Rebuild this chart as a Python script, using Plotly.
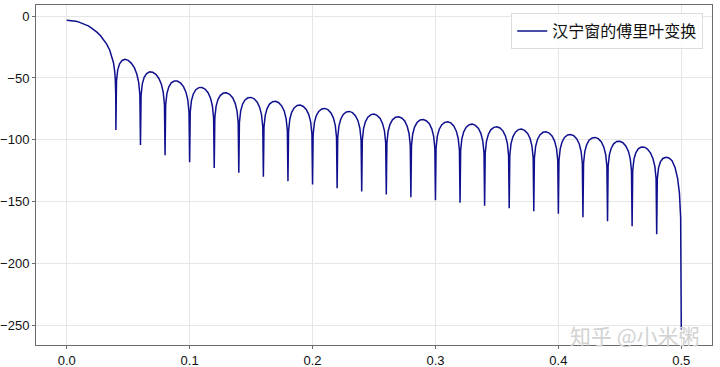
import plotly.graph_objects as go

# ---- data ----
main_lobe_freq = [0.0, 0.0025, 0.005, 0.0075, 0.01, 0.0125, 0.015, 0.0175, 0.02,
                  0.0225, 0.025, 0.0275, 0.03, 0.0325, 0.035, 0.037, 0.038, 0.039,
                  0.0395, 0.0399]
main_lobe_db = [-3.5, -3.59, -3.85, -4.29, -4.92, -5.74, -6.77, -8.0, -9.52,
                -11.3, -13.4, -15.9, -18.9, -22.65, -27.6, -33.3, -37.5, -44.3,
                -50.7, -65.0]

null_freq = [0.04, 0.06, 0.08, 0.10, 0.12, 0.14, 0.16, 0.18, 0.20, 0.22, 0.24, 0.26,
             0.28, 0.30, 0.32, 0.34, 0.36, 0.38, 0.40, 0.42, 0.44, 0.46, 0.48, 0.50]
null_db = [-92.1, -104.2, -112.3, -118.0, -122.6, -126.6, -129.8, -133.3, -136.0,
           -139.0, -141.7, -144.1, -146.3, -148.7, -150.8, -153.1, -155.2, -157.6,
           -159.7, -162.4, -165.7, -169.7, -176.2, -253.0]

# sample offsets inside each side lobe (from the lobe's left null)
lobe_offsets = [0.0005, 0.0015, 0.003, 0.005, 0.0075, 0.01, 0.0125, 0.015, 0.017, 0.0185, 0.0195]

sidelobe_db = [
    [-52.3, -43.4, -38.6, -35.9, -35.0, -35.8, -38.0, -41.7, -46.8, -53.4, -63.5],
    [-63.8, -54.7, -49.5, -46.4, -45.1, -45.4, -47.1, -50.4, -55.1, -61.4, -71.2],
    [-71.8, -62.6, -57.3, -54.0, -52.5, -52.5, -54.0, -57.0, -61.5, -67.7, -77.5],
    [-77.5, -68.2, -62.9, -59.5, -57.8, -57.7, -59.0, -61.9, -66.3, -72.4, -82.1],
    [-82.2, -72.9, -67.5, -64.0, -62.2, -62.0, -63.2, -66.0, -70.3, -76.3, -86.0],
    [-86.2, -76.8, -71.4, -67.8, -66.0, -65.7, -66.8, -69.6, -73.8, -79.8, -89.4],
    [-89.5, -80.2, -74.7, -71.1, -69.2, -68.9, -70.0, -72.7, -76.9, -82.8, -92.5],
    [-92.7, -83.3, -77.8, -74.2, -72.2, -71.9, -73.0, -75.6, -79.8, -85.7, -95.4],
    [-95.5, -86.1, -80.6, -77.0, -75.0, -74.6, -75.6, -78.2, -82.4, -88.3, -97.9],
    [-98.0, -88.6, -83.1, -79.4, -77.4, -77.0, -78.0, -80.6, -84.7, -90.6, -100.2],
    [-100.3, -90.9, -85.4, -81.7, -79.6, -79.2, -80.2, -82.7, -86.9, -92.7, -102.3],
    [-102.4, -93.0, -87.5, -83.8, -81.7, -81.3, -82.3, -84.8, -89.0, -94.8, -104.4],
    [-104.6, -95.2, -89.7, -86.0, -83.9, -83.5, -84.5, -87.0, -91.1, -97.0, -106.6],
    [-106.6, -97.2, -91.6, -87.9, -85.9, -85.4, -86.3, -88.9, -93.0, -98.8, -108.4],
    [-108.5, -99.1, -93.5, -89.8, -87.8, -87.3, -88.3, -90.8, -94.9, -100.8, -110.4],
    [-110.6, -101.2, -95.6, -91.9, -89.9, -89.4, -90.4, -92.9, -97.0, -102.9, -112.5],
    [-112.4, -103.0, -97.5, -93.8, -91.7, -91.3, -92.3, -94.8, -98.9, -104.8, -114.4],
    [-114.6, -105.2, -99.7, -96.0, -93.9, -93.5, -94.5, -97.0, -101.2, -107.0, -116.6],
    [-116.6, -107.2, -101.7, -98.0, -96.0, -95.6, -96.6, -99.2, -103.3, -109.2, -118.8],
    [-118.8, -109.5, -104.0, -100.3, -98.4, -98.0, -99.0, -101.7, -105.9, -111.8, -121.4],
    [-121.4, -112.1, -106.7, -103.2, -101.3, -101.1, -102.3, -105.1, -109.3, -115.3, -125.0],
    [-124.8, -115.6, -110.4, -107.2, -105.8, -105.9, -107.4, -110.6, -115.2, -121.4, -131.2],
    [-131.4, -122.6, -117.8, -115.0, -114.1, -114.6, -116.8, -122.5, -131.0, -143.0, -163.0],
]

x_tick_vals = [0.0, 0.1, 0.2, 0.3, 0.4, 0.5]
x_tick_text = ["0.0", "0.1", "0.2", "0.3", "0.4", "0.5"]
y_tick_vals = [0, -50, -100, -150, -200, -250]

series_name = "汉宁窗的傅里叶变换"
watermark = "知乎 @小米粥"

# ---- assemble the curve ----
freq = list(main_lobe_freq)
db = list(main_lobe_db)
for i, row in enumerate(sidelobe_db):
    freq.append(null_freq[i])
    db.append(null_db[i])
    for off, v in zip(lobe_offsets, row):
        freq.append(null_freq[i] + off)
        db.append(v)
freq.append(null_freq[-1])
db.append(null_db[-1])

fig = go.Figure()
fig.add_trace(go.Scatter(
    x=freq, y=db, mode="lines", name=series_name,
    line=dict(color="#10108f", width=1.5),
))

axis_common = dict(
    automargin=False,
    showline=True, mirror=True, linecolor="#6b6b6b", linewidth=1,
    showgrid=True, gridcolor="#e6e6e6", gridwidth=1,
    zeroline=False, ticks="outside", ticklen=3, tickcolor="#6b6b6b",
    tickfont=dict(family="Liberation Sans, Arial, sans-serif", size=13, color="#111111"),
)

fig.update_layout(
    width=720, height=367,
    margin=dict(l=36, r=8, t=5, b=22),
    paper_bgcolor="white", plot_bgcolor="white",
    showlegend=True,
    legend=dict(
        x=0.987, y=0.976, xanchor="right", yanchor="top",
        bgcolor="rgba(255,255,255,0.85)", bordercolor="#dcdcdc", borderwidth=1,
        font=dict(family="Noto Sans CJK SC", size=16, color="#111111"),
    ),
    xaxis=dict(range=[-0.025, 0.525], tickvals=x_tick_vals, ticktext=x_tick_text,
               **axis_common),
    yaxis=dict(range=[-265.6, 8.9], tickvals=y_tick_vals, **axis_common),
    annotations=[dict(
        text=watermark, xref="paper", yref="paper", x=0.886, y=0.028,
        xanchor="center", yanchor="middle", showarrow=False,
        font=dict(family="Noto Sans CJK SC", size=21, color="#d2d2d2"),
    )],
)

fig.write_html("out.html")
